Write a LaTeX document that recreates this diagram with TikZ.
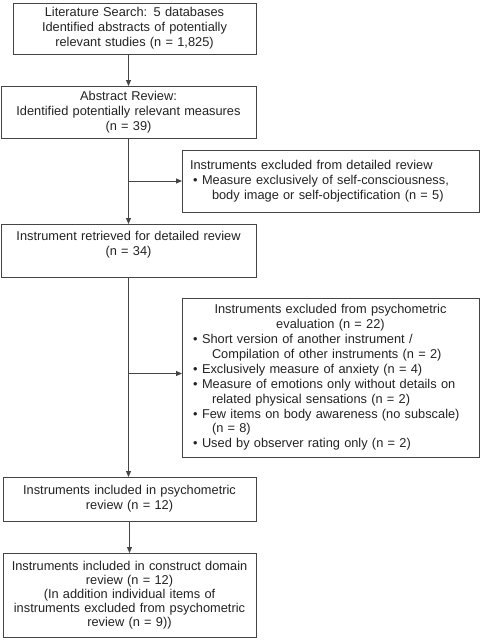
\documentclass[tikz,border=0pt]{standalone}
\usepackage{fontspec}
\setmainfont{Liberation Sans}
\usetikzlibrary{positioning}
\usetikzlibrary{arrows.meta}

\definecolor{linegray}{HTML}{454545}
\definecolor{textgray}{HTML}{222222}

% 箇条書きの記号
\newcommand{\bul}{\hspace*{3pt}\makebox[9pt][l]{\textbullet}}
% 箇条書きの続きの行
\newcommand{\cont}{\newline\hspace*{22pt}}
% 中央揃えの行
\newcommand{\ctr}[1]{\makebox[281pt][c]{#1}}

\begin{document}
\begin{tikzpicture}
  [
  x=1pt, y=1pt,
  % 文字の設定
  every node/.style={outer sep=0, inner sep=0, text=textgray,
  font=\fontsize{12.8}{14.9}\selectfont},
  % 矢印の設定
  arrow/.style={-{Triangle[length=6pt, width=5pt]}, line width=1pt, draw=linegray},
  % 中央のブロック
  block/.style={rectangle, draw=linegray, line width=1pt, align=center,
  inner xsep=5pt},
  % 除外のブロック
  exblock/.style={rectangle, draw=linegray, line width=1pt, align=left,
  inner xsep=8pt, text width=281pt, minimum width=297pt}
  ]
  \useasboundingbox (0,0) rectangle (481,-640);
  \node [block, text width=245pt, minimum width=255pt, minimum height=52pt]
  (abs) at (128.5,-112) {Abstract Review:\\ Identified potentially relevant measures\\ (n = 39)};
  \node [block, text width=233pt, minimum width=243pt, minimum height=51pt,
  above=32pt of abs, xshift=6pt] (lit)
  {Literature Search: 5 databases\\ Identified abstracts of potentially\\ relevant studies (n = 1,825)};
  \node [block, text width=245pt, minimum width=255pt, minimum height=53pt,
  below=86pt of abs] (ret)
  {Instrument retrieved for detailed review\\ (n = 34)\\ \mbox{}};
  \node [block, text width=243pt, minimum width=253pt, minimum height=44pt,
  below=200pt of ret, xshift=1pt] (inc)
  {Instruments included in psychometric\\ review (n = 12)};
  \node [block, text width=243pt, minimum width=253pt, minimum height=84pt,
  below=32pt of inc, font=\fontsize{12.8}{14.1}\selectfont] (con)
  {Instruments included in construct domain\\ review (n = 12)\\
  (In addition individual items of\\ instruments excluded from psychometric\\ review (n = 9))};
  \node [exblock, minimum height=62pt] (exd) at (330.5,-181)
  {Instruments excluded from detailed review\newline
  \bul Measure exclusively of self-consciousness,\cont body image or self-objectification (n = 5)};
  \node [exblock, minimum height=159pt] (exp) at (330.5,-377.5)
  {\ctr{Instruments excluded from psychometric}\newline
  \ctr{evaluation (n = 22)}\newline
  \bul Short version of another instrument /\cont Compilation of other instruments (n = 2)\newline
  \bul Exclusively measure of anxiety (n = 4)\newline
  \bul Measure of emotions only without details on\cont related physical sensations (n = 2)\newline
  \bul Few items on body awareness (no subscale)\cont (n = 8)\newline
  \bul Used by observer rating only (n = 2)};
  \draw [arrow] (lit.south -| abs.north) -- (abs.north);
  \draw [arrow] (abs) -- (ret);
  \draw [arrow] (ret.south) -- (ret.south |- inc.north);
  \draw [arrow] (inc) -- (con);
  \draw [arrow] (abs.south |- exd.west) -- (exd.west);
  \draw [arrow] (ret.south |- exp.west) ++(0,4) coordinate (j) -- (j -| exp.west);
\end{tikzpicture}
\end{document}
